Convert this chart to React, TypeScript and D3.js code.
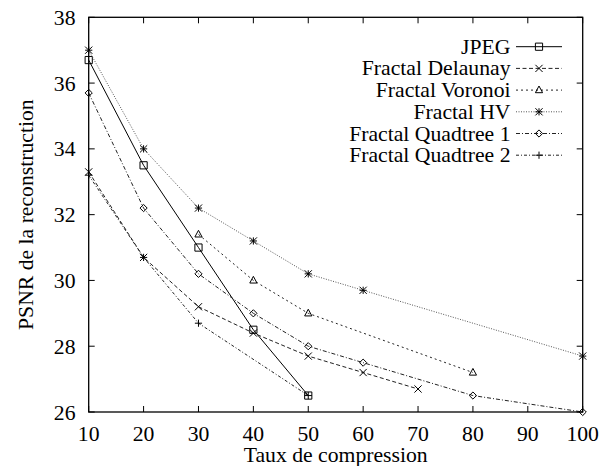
import React, { useEffect, useRef } from "react";
import * as d3 from "d3";

// compression ratios and PSNR per method
const xJpeg = [10, 20, 30, 40, 50];
const yJpeg = [36.7, 33.5, 31.0, 28.5, 26.5];
const xDelaunay = [10, 20, 30, 40, 50, 60, 70];
const yDelaunay = [33.3, 30.7, 29.2, 28.4, 27.7, 27.2, 26.7];
const xVoronoi = [30, 40, 50, 80];
const yVoronoi = [31.4, 30.0, 29.0, 27.2];
const xHV = [10, 20, 30, 40, 50, 60, 100];
const yHV = [37.0, 34.0, 32.2, 31.2, 30.2, 29.7, 27.7];
const xQuad1 = [10, 20, 30, 40, 50, 60, 80, 100];
const yQuad1 = [35.7, 32.2, 30.2, 29.0, 28.0, 27.5, 26.5, 26.0];
const xQuad2 = [10, 20, 30, 50];
const yQuad2 = [33.2, 30.7, 28.7, 26.5];

const seriesNames = [
  "JPEG",
  "Fractal Delaunay",
  "Fractal Voronoi",
  "Fractal HV",
  "Fractal Quadtree 1",
  "Fractal Quadtree 2",
];
const xTicks = [10, 20, 30, 40, 50, 60, 70, 80, 90, 100];
const yTicks = [26, 28, 30, 32, 34, 36, 38];

type Marker = "box" | "cross" | "triangle" | "star" | "diamond" | "plus";

const styles: { marker: Marker; dash: string | null; color: string }[] = [
  { marker: "box", dash: null, color: "#000" },
  { marker: "cross", dash: "4,2.5", color: "#222" },
  { marker: "triangle", dash: "2,3", color: "#222" },
  { marker: "star", dash: "1,1.5", color: "#555" },
  { marker: "diamond", dash: "4,2,1,2", color: "#222" },
  { marker: "plus", dash: "3,2,1,2", color: "#222" },
];

const FONT = "Liberation Serif";

function drawMarker(g: d3.Selection<SVGGElement, unknown, null, undefined>, type: Marker, cx: number, cy: number) {
  const s = 3.6;
  const p = g.append("path").attr("fill", "none").attr("stroke", "#000").attr("stroke-width", 1);
  let d = "";
  if (type === "box") d = `M${cx - s},${cy - s}h${2 * s}v${2 * s}h${-2 * s}Z`;
  if (type === "cross") d = `M${cx - s},${cy - s}L${cx + s},${cy + s}M${cx - s},${cy + s}L${cx + s},${cy - s}`;
  if (type === "plus") d = `M${cx - s},${cy}H${cx + s}M${cx},${cy - s}V${cy + s}`;
  if (type === "star")
    d = `M${cx - s},${cy - s}L${cx + s},${cy + s}M${cx - s},${cy + s}L${cx + s},${cy - s}M${cx - s},${cy}H${cx + s}M${cx},${cy - s}V${cy + s}`;
  if (type === "triangle") d = `M${cx},${cy - s - 0.5}L${cx + s},${cy + s - 1}L${cx - s},${cy + s - 1}Z`;
  if (type === "diamond") d = `M${cx},${cy - s}L${cx + s},${cy}L${cx},${cy + s}L${cx - s},${cy}Z`;
  p.attr("d", d);
}

export default function App() {
  const ref = useRef<SVGSVGElement>(null);

  useEffect(() => {
    if (!ref.current) return;
    const svg = d3.select(ref.current);
    svg.selectAll("*").remove();

    const left = 88.7, right = 582.7, top = 17.3, bottom = 412;
    const x = d3.scaleLinear().domain([10, 100]).range([left, right]);
    const y = d3.scaleLinear().domain([26, 38]).range([bottom, top]);

    const xs = [xJpeg, xDelaunay, xVoronoi, xHV, xQuad1, xQuad2];
    const ys = [yJpeg, yDelaunay, yVoronoi, yHV, yQuad1, yQuad2];

    // ticks (inward on all four sides)
    const tickLen = 6;
    const ticks = svg.append("g").attr("stroke", "#000").attr("stroke-width", 1);
    xTicks.forEach((t) => {
      ticks.append("line").attr("x1", x(t)).attr("x2", x(t)).attr("y1", bottom).attr("y2", bottom - tickLen);
      ticks.append("line").attr("x1", x(t)).attr("x2", x(t)).attr("y1", top).attr("y2", top + tickLen);
    });
    yTicks.forEach((t) => {
      ticks.append("line").attr("x1", left).attr("x2", left + tickLen).attr("y1", y(t)).attr("y2", y(t));
      ticks.append("line").attr("x1", right).attr("x2", right - tickLen).attr("y1", y(t)).attr("y2", y(t));
    });

    const txt = (sel: d3.Selection<any, any, any, any>) =>
      sel.style("font-family", FONT).style("font-size", "21.7px").attr("fill", "#000");

    // tick labels
    svg
      .append("g")
      .selectAll("text")
      .data(xTicks)
      .enter()
      .append("text")
      .attr("x", (d) => x(d))
      .attr("y", 441)
      .attr("text-anchor", "middle")
      .call(txt)
      .text((d) => d);

    svg
      .append("g")
      .selectAll("text")
      .data(yTicks)
      .enter()
      .append("text")
      .attr("x", 75.5)
      .attr("y", (d) => y(d) + 7.5)
      .attr("text-anchor", "end")
      .call(txt)
      .text((d) => d);

    // series lines + points
    xs.forEach((xv, i) => {
      const pts: [number, number][] = xv.map((v, j) => [x(v), y(ys[i][j])]);
      svg
        .append("path")
        .attr("d", d3.line()(pts))
        .attr("fill", "none")
        .attr("stroke", styles[i].color)
        .attr("stroke-width", 1)
        .attr("stroke-dasharray", styles[i].dash);
      const g = svg.append("g");
      pts.forEach(([px, py]) => drawMarker(g, styles[i].marker, px, py));
    });

    // frame
    svg
      .append("rect")
      .attr("x", left)
      .attr("y", top)
      .attr("width", right - left)
      .attr("height", bottom - top)
      .attr("fill", "none")
      .attr("stroke", "#000")
      .attr("stroke-width", 1.3);

    // legend
    const legend = svg.append("g");
    seriesNames.forEach((name, i) => {
      const cy = 46.7 + i * 21.7;
      legend
        .append("text")
        .attr("x", 510.5)
        .attr("y", cy + 7)
        .attr("text-anchor", "end")
        .call(txt)
        .text(name);
      legend
        .append("line")
        .attr("x1", 516)
        .attr("x2", 562)
        .attr("y1", cy)
        .attr("y2", cy)
        .attr("stroke", styles[i].color)
        .attr("stroke-width", 1)
        .attr("stroke-dasharray", styles[i].dash);
      drawMarker(legend, styles[i].marker, 539, cy);
    });

    // axis titles
    svg
      .append("text")
      .attr("x", (left + right) / 2)
      .attr("y", 461.7)
      .attr("text-anchor", "middle")
      .call(txt)
      .text("Taux de compression");

    svg
      .append("text")
      .attr("transform", `translate(33,${(top + bottom) / 2})rotate(-90)`)
      .attr("text-anchor", "middle")
      .call(txt)
      .text("PSNR de la reconstruction");
  }, []);

  return (
    <svg
      ref={ref}
      width={600}
      height={466}
      style={{ position: "absolute", left: 0, top: 0, background: "#fff" }}
    ></svg>
  );
}
